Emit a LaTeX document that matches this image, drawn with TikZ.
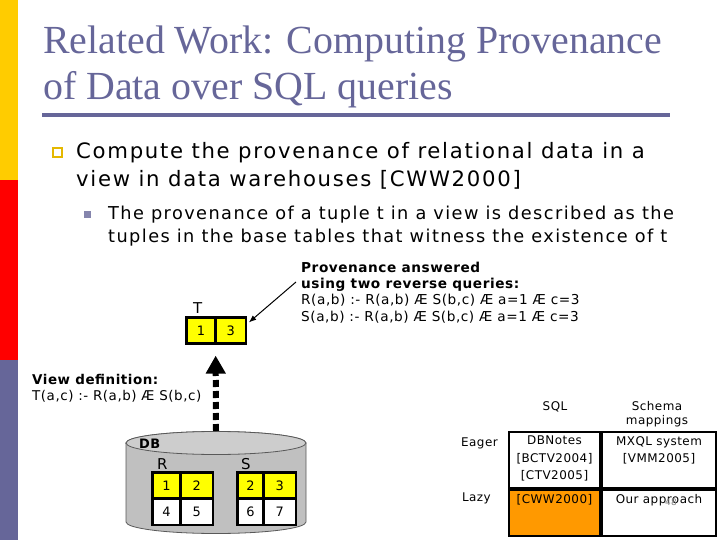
\documentclass[tikz,border=0pt]{standalone}
\usepackage{fontspec}
\setmainfont{DejaVu Sans}[LetterSpace=4]
\newfontfamily\widefont{DejaVu Sans}[LetterSpace=8]
\newfontfamily\titlefont{Liberation Serif}
\usetikzlibrary{arrows.meta,calc,positioning}

\definecolor{slate}{HTML}{666699}
\definecolor{baryellow}{HTML}{FFCC00}
\definecolor{barred}{HTML}{FF0000}
\definecolor{hot}{HTML}{FFFF00}
\definecolor{orng}{HTML}{FF9900}
\definecolor{dbgray}{HTML}{C0C0C0}

\tikzset{
  txt/.style={inner sep=0pt,anchor=base west,align=left},
  cell/.style={draw,line width=1.2bp,inner sep=0pt,minimum height=25bp,
               font=\fontsize{13}{13}\selectfont},
  hotcell/.style={cell,fill=hot},
  gridcell/.style={draw,line width=2bp,inner sep=0pt},
  gridtxt/.style={inner sep=0pt,anchor=north,align=center,
                  font=\fontsize{12}{17.5}\selectfont},
}

\begin{document}
\begin{tikzpicture}[x=1bp,y=-1bp,>=Latex]
  \useasboundingbox (0,0) rectangle (720,540);
  % side bars
  \fill[baryellow] (0,0) rectangle (18,180);
  \fill[barred]    (0,180) rectangle (18,360);
  \fill[slate]     (0,360) rectangle (18,540);
  % title (anchored at the baseline of its last line)
  \node[txt,text=slate,font=\titlefont\fontsize{40}{47}\selectfont] (title) at (43,100)
     {Related Work: Computing Provenance\\of Data over SQL queries};
  \draw[slate,line width=4bp] (42,115) -- (670,115);
  % bullets
  \draw[baryellow!90!black,line width=2bp] (53,148) rectangle (62,157);
  \node[txt,font=\widefont\fontsize{21.3}{29}\selectfont] (point) at (76,187)
     {Compute the provenance of relational data in a\\view in data warehouses {[CWW2000]}};
  \fill[slate!80] (84,211) rectangle (91,218);
  \node[txt,font=\widefont\fontsize{17.8}{24}\selectfont] (subpoint) at (108,243)
     {The provenance of a tuple t in a view is described as the\\tuples in the base tables that witness the existence of t};
  % view T
  \node[txt,font=\fontsize{15}{15}\selectfont] (Tname) at (193,313) {T};
  \node[hotcell,minimum width=28bp] (T1) at (201,330.5) {1};
  \node[hotcell,minimum width=29bp,right=0pt of T1] (T2) {3};
  \draw[line width=2.5bp] (T1.north west) rectangle (T2.south east);
  % reverse queries
  \node[txt,font=\fontsize{13.7}{16.2}\selectfont] (prov) at (301,321)
     {\textbf{Provenance answered}\\\textbf{using two reverse queries:}\\
      R(a,b) :- R(a,b) Æ S(b,c) Æ a=1 Æ c=3\\S(a,b) :- R(a,b) Æ S(b,c) Æ a=1 Æ c=3};
  \coordinate (provtail) at (296,282);
  \draw[->,line width=1bp] (provtail) -- ($(T2.east)+(3,-8)$);
  % view definition
  \node[txt,font=\fontsize{13.5}{16}\selectfont] (viewdef) at (32,400)
     {\textbf{View definition:}\\T(a,c) :- R(a,b) Æ S(b,c)};
  % database cylinder
  \path[fill=dbgray,draw=gray!70!black,line width=0.8bp] (126,443) -- (126,522)
     arc[start angle=180,end angle=360,x radius=90bp,y radius=11.5bp]
     -- (306,443) arc[start angle=0,end angle=180,x radius=90bp,y radius=11.5bp] -- cycle;
  \draw[fill=dbgray!80,draw=gray!70!black,line width=0.8bp] (216,443)
     ellipse[x radius=90bp,y radius=11.5bp];
  \coordinate (dbtop) at (216,431);
  \node[txt,font=\bfseries\fontsize{13}{13}\selectfont] (DB) at (139,448) {DB};
  \node[txt,font=\fontsize{15}{15}\selectfont] (Rname) at (157,469) {R};
  \node[txt,font=\fontsize{15}{15}\selectfont] (Sname) at (241,469) {S};
  % base tables
  \node[hotcell,minimum width=27bp] (R1) at (166.5,485.5) {1};
  \node[hotcell,minimum width=31bp,right=0pt of R1] (R2) {2};
  \node[cell,fill=white,minimum width=27bp,below=0pt of R1] (R3) {4};
  \node[cell,fill=white,minimum width=31bp,below=0pt of R2] (R4) {5};
  \draw[line width=2.5bp] (R1.north west) rectangle (R4.south east);
  \node[hotcell,minimum width=25bp] (S1) at (250.5,485.5) {2};
  \node[hotcell,minimum width=31bp,right=0pt of S1] (S2) {3};
  \node[cell,fill=white,minimum width=25bp,below=0pt of S1] (S3) {6};
  \node[cell,fill=white,minimum width=31bp,below=0pt of S2] (S4) {7};
  \draw[line width=2.5bp] (S1.north west) rectangle (S4.south east);
  % dashed arrow DB -> T
  \draw[line width=6bp,dash pattern=on 7bp off 4bp,
        -{Triangle[width=19bp,length=18bp]},shorten >=12bp]
     (dbtop) -- (T1.south east);
  % comparison grid
  \node[gridcell,fill=white,minimum width=91bp,minimum height=56bp] (eagersql) at (554.5,460) {};
  \node[gridcell,fill=white,minimum width=114bp,minimum height=56bp,right=0pt of eagersql] (eagermap) {};
  \node[gridcell,fill=orng,minimum width=91bp,minimum height=46bp,below=0pt of eagersql] (lazysql) {};
  \node[gridcell,fill=white,minimum width=114bp,minimum height=46bp,below=0pt of eagermap] (lazymap) {};
  \node[gridtxt] (hsql) at (555,401) {SQL};
  \node[gridtxt,font=\fontsize{12}{14.5}\selectfont] (hmap) at (657,401) {Schema\\mappings};
  \node[gridtxt,anchor=east] (heager) at (498,443) {Eager};
  \node[gridtxt,anchor=east] (hlazy) at (491,498) {Lazy};
  \node[gridtxt] (t11) at ($(eagersql.north)+(0,5)$) {DBNotes\\{[BCTV2004]}\\{[CTV2005]}};
  \node[gridtxt] (t12) at ($(eagermap.north)+(0,5)$) {MXQL system\\{[VMM2005]}};
  \node[gridtxt] (t21) at ($(lazysql.north)+(0,5)$) {[CWW2000]};
  \node[gridtxt] (t22) at ($(lazymap.north)+(0,5)$) {Our approach};
  \node[inner sep=0pt,text=gray,font=\fontsize{9}{9}\selectfont] (pageno) at (671,502) {48};
\end{tikzpicture}
\end{document}
